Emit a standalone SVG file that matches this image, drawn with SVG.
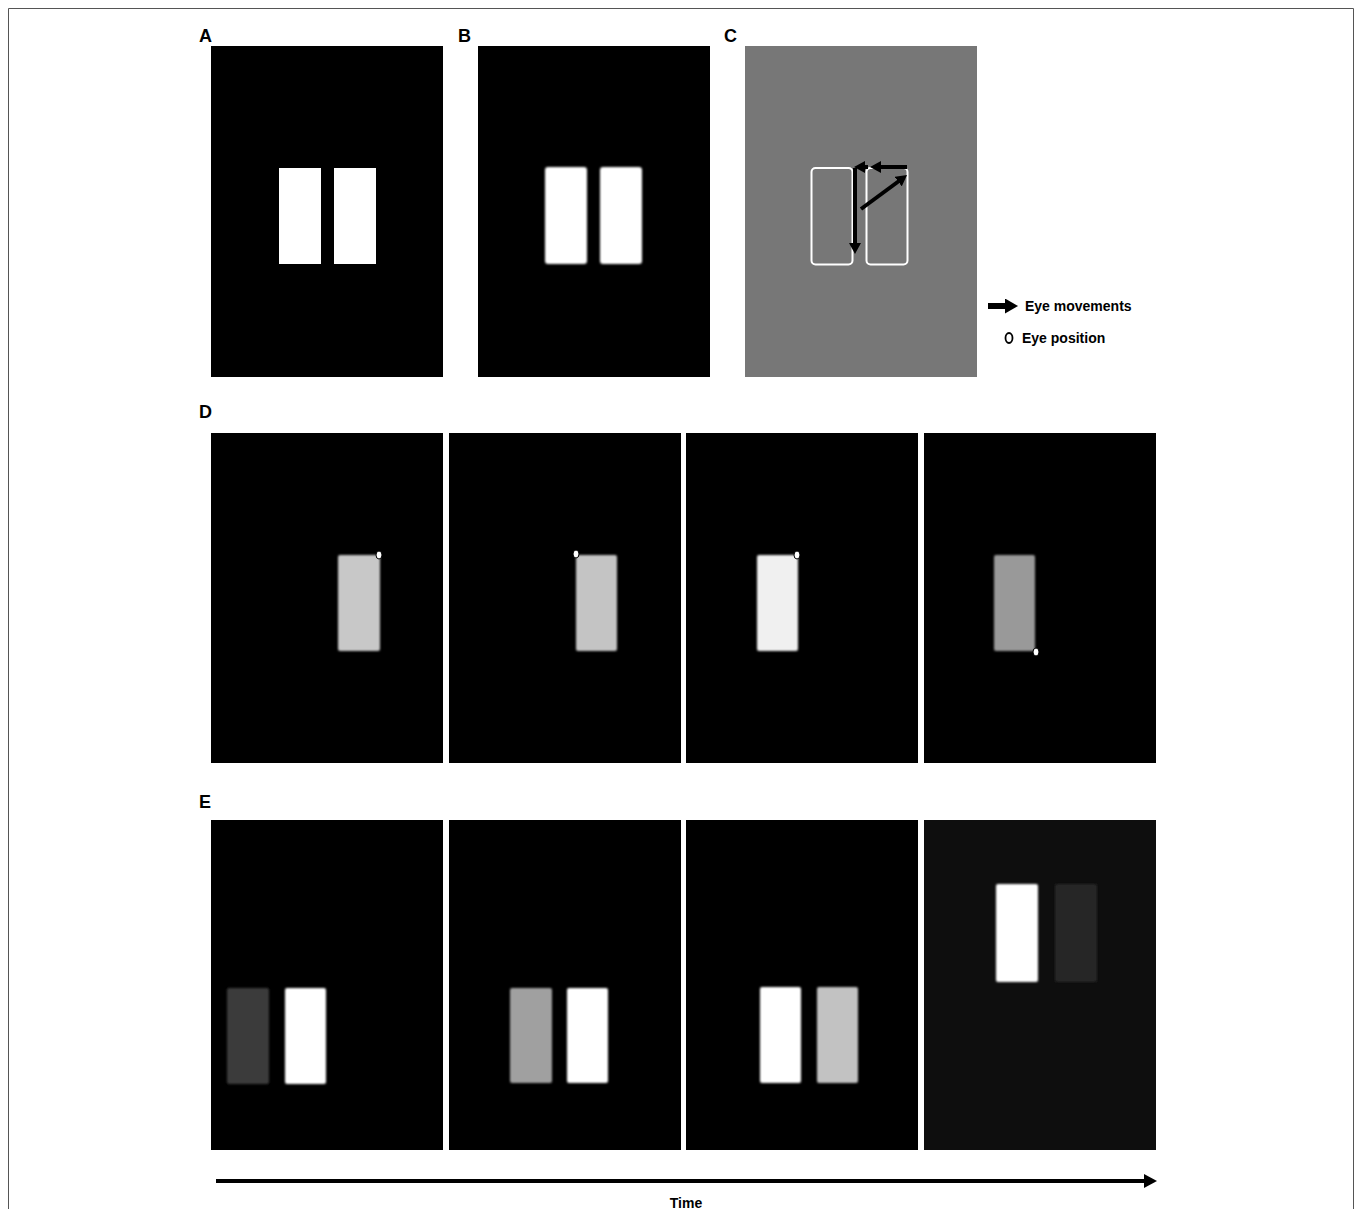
<svg xmlns="http://www.w3.org/2000/svg" width="1355" height="1209" viewBox="0 0 1355 1209">
<style>
.lbl{font-family:"Liberation Sans",Arial,sans-serif;font-weight:bold;font-size:18px;fill:#000}
.leg{font-family:"Liberation Sans",Arial,sans-serif;font-weight:bold;font-size:14px;fill:#000}
.panel{fill:#000}
.eye{fill:#fff;stroke:#000;stroke-width:1}
.arr{stroke:#000;fill:none}
</style>
<defs>
<filter id="blur" x="-20%" y="-20%" width="140%" height="140%"><feGaussianBlur stdDeviation="1.3"/></filter>
<marker id="ahC" markerWidth="11" markerHeight="12" refX="1" refY="6" orient="auto" markerUnits="userSpaceOnUse"><path d="M0,0 L11,6 L0,12 Z" fill="#000"/></marker>
<marker id="ahL" markerWidth="13" markerHeight="15" refX="1" refY="7.5" orient="auto" markerUnits="userSpaceOnUse"><path d="M0,0 L13,7.5 L0,15 Z" fill="#000"/></marker>
<marker id="ahT" markerWidth="13" markerHeight="14" refX="1" refY="7" orient="auto" markerUnits="userSpaceOnUse"><path d="M0,0 L13,7 L0,14 Z" fill="#000"/></marker>
</defs>
<rect x="0" y="0" width="1355" height="1209" fill="#fff"/>
<path d="M8.5,1209 V8.5 H1353.5 V1209" fill="none" stroke="#555" stroke-width="1"/>

<g id="panelA">
<text class="lbl" x="199" y="42">A</text>
<rect class="panel" x="211" y="46" width="232" height="331"/>
<rect x="279" y="168" width="42" height="96" fill="#fff"/>
<rect x="334" y="168" width="42" height="96" fill="#fff"/>
</g>
<g id="panelB">
<text class="lbl" x="458" y="42">B</text>
<rect class="panel" x="478" y="46" width="232" height="331"/>
<g filter="url(#blur)">
<rect x="545" y="167" width="42" height="97" rx="3" fill="#fff"/>
<rect x="600" y="167" width="42" height="97" rx="3" fill="#fff"/>
</g>
</g>
<g id="panelC">
<text class="lbl" x="724" y="42">C</text>
<rect x="745" y="46" width="232" height="331" fill="#777"/>
<rect x="811.5" y="168" width="41" height="96.5" rx="4" fill="none" stroke="#fff" stroke-width="2"/>
<rect x="866.5" y="168" width="41" height="96.5" rx="4" fill="none" stroke="#fff" stroke-width="2"/>
</g>
<g id="connectors">
<line class="arr" x1="855" y1="168" x2="855" y2="244" stroke-width="4" marker-end="url(#ahC)"/>
<line class="arr" x1="868" y1="167" x2="864" y2="167" stroke-width="4" marker-end="url(#ahC)"/>
<line class="arr" x1="907" y1="167" x2="880" y2="167" stroke-width="4" marker-end="url(#ahC)"/>
<line class="arr" x1="861" y1="209" x2="899" y2="181" stroke-width="4" marker-end="url(#ahC)"/>
<line class="arr" x1="988" y1="306" x2="1006" y2="306" stroke-width="6" marker-end="url(#ahL)"/>
<line class="arr" x1="216" y1="1181" x2="1145" y2="1181" stroke-width="4" marker-end="url(#ahT)"/>
</g>
<g id="legend">
<text class="leg" x="1025" y="311">Eye movements</text>
<ellipse cx="1009" cy="338" rx="3.5" ry="5" fill="none" stroke="#000" stroke-width="1.8"/>
<text class="leg" x="1022" y="343">Eye position</text>
</g>

<g id="panelD">
<text class="lbl" x="199" y="418">D</text>
<rect class="panel" x="211" y="433" width="232" height="330"/>
<rect class="panel" x="449" y="433" width="232" height="330"/>
<rect class="panel" x="686" y="433" width="232" height="330"/>
<rect class="panel" x="924" y="433" width="232" height="330"/>
<g filter="url(#blur)">
<rect x="338" y="555" width="42" height="96" rx="2" fill="#c8c8c8"/>
<rect x="576" y="555" width="41" height="96" rx="2" fill="#c4c4c4"/>
<rect x="757" y="555" width="41" height="96" rx="2" fill="#f0f0f0"/>
<rect x="994" y="555" width="41" height="96" rx="2" fill="#999"/>
</g>
<ellipse class="eye" cx="379" cy="555" rx="3" ry="4"/>
<ellipse class="eye" cx="576" cy="554" rx="3" ry="4"/>
<ellipse class="eye" cx="797" cy="555" rx="3" ry="4"/>
<ellipse class="eye" cx="1036" cy="652" rx="3" ry="4"/>
</g>

<g id="panelE">
<text class="lbl" x="199" y="808">E</text>
<rect class="panel" x="211" y="820" width="232" height="330"/>
<rect class="panel" x="449" y="820" width="232" height="330"/>
<rect class="panel" x="686" y="820" width="232" height="330"/>
<rect x="924" y="820" width="232" height="330" fill="#0e0e0e"/>
<g filter="url(#blur)">
<rect x="227" y="988" width="42" height="96" rx="2" fill="#3a3a3a"/>
<rect x="285" y="988" width="41" height="96" rx="2" fill="#fff"/>
<rect x="510" y="988" width="42" height="95" rx="2" fill="#a0a0a0"/>
<rect x="567" y="988" width="41" height="95" rx="2" fill="#fff"/>
<rect x="760" y="987" width="41" height="96" rx="2" fill="#fff"/>
<rect x="817" y="987" width="41" height="96" rx="2" fill="#c2c2c2"/>
<rect x="996" y="884" width="42" height="98" rx="2" fill="#fff"/>
<rect x="1055" y="884" width="42" height="98" rx="2" fill="#262626"/>
</g>
</g>
<text class="leg" x="686" y="1208" text-anchor="middle">Time</text>
</svg>
